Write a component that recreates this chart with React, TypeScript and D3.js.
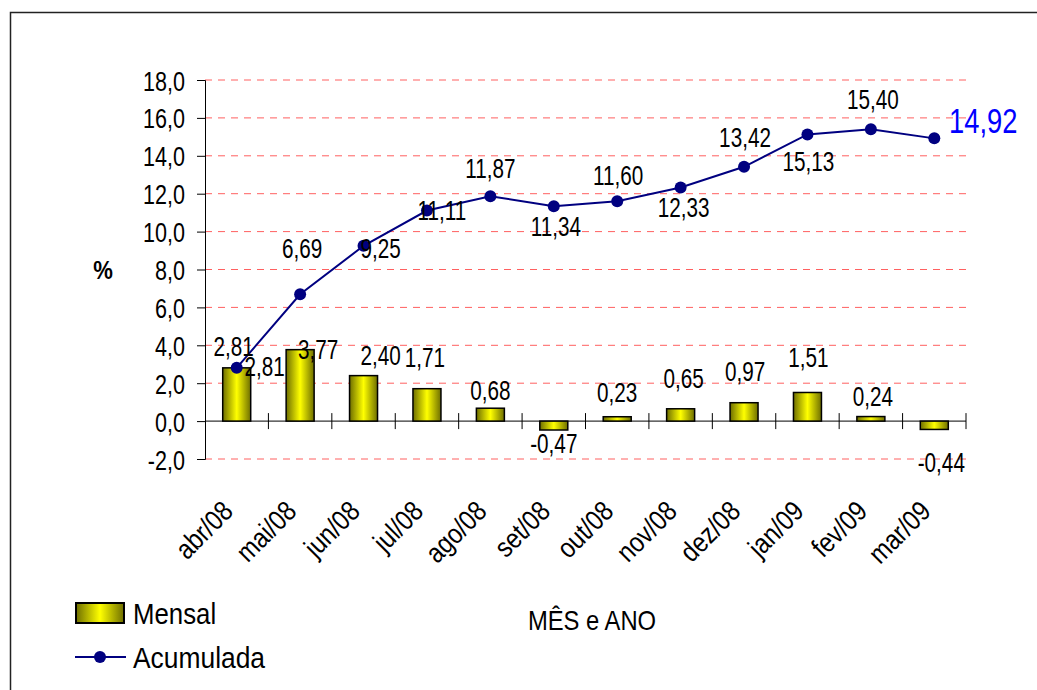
import { useEffect, useRef } from "react";
import * as d3 from "d3";

const months = ["abr/08", "mai/08", "jun/08", "jul/08", "ago/08", "set/08", "out/08", "nov/08", "dez/08", "jan/09", "fev/09", "mar/09"];
const mensal = [2.81, 3.77, 2.40, 1.71, 0.68, -0.47, 0.23, 0.65, 0.97, 1.51, 0.24, -0.44];
const acumulada = [2.81, 6.69, 9.25, 11.11, 11.87, 11.34, 11.60, 12.33, 13.42, 15.13, 15.40, 14.92];
const yTicks = [-2, 0, 2, 4, 6, 8, 10, 12, 14, 16, 18];

// hand-placed label nudges (px) as in the original spreadsheet
const barLabelNudge: [number, number][] = [
  [28, -2], [18, 0], [17, -20], [-2, -32], [0, -18], [0, 13], [0, -25], [3, -31], [1, -32], [1, -35], [2, -20], [7, 33],
];
const lineLabelNudge: [number, number][] = [
  [-3, -22], [2, -46], [17, 2], [15, 0], [0, -28], [2, 20], [1, -26], [3, 20], [1, -30], [1, 27], [2, -30], [0, 0],
];

const fmt = (v: number) => v.toFixed(2).replace(".", ",");

export default function App() {
  const svgRef = useRef<SVGSVGElement | null>(null);

  useEffect(() => {
    if (!svgRef.current) return;
    const svg = d3.select(svgRef.current);
    svg.selectAll("*").remove();

    const width = 1037;
    const height = 690;
    const left = 205;
    const right = 966;
    const font = "'Liberation Sans', Arial, sans-serif";

    svg.attr("width", width).attr("height", height).style("font-family", font);

    const defs = svg.append("defs");
    const grad = defs.append("linearGradient").attr("id", "barGrad").attr("x1", "0").attr("x2", "1").attr("y1", "0").attr("y2", "0");
    grad.append("stop").attr("offset", "0%").attr("stop-color", "#6e6e00");
    grad.append("stop").attr("offset", "50%").attr("stop-color", "#ffff00");
    grad.append("stop").attr("offset", "100%").attr("stop-color", "#6e6e00");

    // narrow text helper: the original renders text condensed
    const label = (g: d3.Selection<any, any, any, any>, x: number, y: number, txt: string, size: number, sx: number) =>
      g.append("text").attr("transform", `translate(${x},${y}) scale(${sx},1)`)
        .attr("dy", "0.35em").attr("text-anchor", "middle").attr("font-size", size).text(txt);

    // outer frame
    svg.append("path").attr("d", `M10.5,${height} V12.5 H${width}`).attr("fill", "none").attr("stroke", "#222").attr("stroke-width", 1.5);

    const x = d3.scaleBand<string>().domain(months).range([left, right]).paddingInner(0).paddingOuter(0);
    const y = d3.scaleLinear().domain([-2, 18]).range([459, 80]);
    const bw = 28;
    const cx = (i: number) => (x(months[i]) ?? 0) + x.bandwidth() / 2;

    // gridlines
    svg.append("g").selectAll("line").data(yTicks.filter((t) => t !== 0)).enter().append("line")
      .attr("x1", left).attr("x2", right)
      .attr("y1", (d) => y(d)).attr("y2", (d) => y(d))
      .attr("stroke", "#ff6060").attr("stroke-width", 1).attr("stroke-dasharray", "7,6");

    // y axis
    const yAxis = d3.axisLeft(y).tickValues(yTicks).tickSize(8).tickFormat((d) => (d as number).toFixed(1).replace(".", ","));
    const ya = svg.append("g").attr("transform", `translate(${left},0)`).call(yAxis);
    ya.select(".domain").attr("stroke", "#000");
    ya.selectAll(".tick line").attr("stroke", "#000");
    ya.selectAll("text").attr("font-size", 28).attr("font-family", font).attr("fill", "#000")
      .attr("x", 0).attr("dy", "0.36em").attr("transform", "translate(-20,0) scale(0.77,1)");

    // x axis at zero
    svg.append("line").attr("x1", left).attr("x2", right).attr("y1", y(0)).attr("y2", y(0)).attr("stroke", "#000");
    svg.append("g").selectAll("line").data(d3.range(1, months.length + 1)).enter().append("line")
      .attr("x1", (i) => left + i * x.bandwidth()).attr("x2", (i) => left + i * x.bandwidth())
      .attr("y1", y(0) - 8).attr("y2", y(0) + 8).attr("stroke", "#000");

    // category labels
    svg.append("g").selectAll("text").data(months).enter().append("text")
      .attr("transform", (_, i) => `translate(${cx(i) - 2},${513}) rotate(-45) scale(0.85,1)`)
      .attr("text-anchor", "end").attr("font-size", 28).text((d) => d);

    // bars
    svg.append("g").selectAll("rect").data(mensal).enter().append("rect")
      .attr("x", (_, i) => cx(i) - bw / 2).attr("width", bw)
      .attr("y", (d) => y(Math.max(0, d))).attr("height", (d) => Math.abs(y(d) - y(0)))
      .attr("fill", "url(#barGrad)").attr("stroke", "#000").attr("stroke-width", 1.5);

    // bar labels
    const bl = svg.append("g");
    mensal.forEach((d, i) => label(bl, cx(i) + barLabelNudge[i][0], y(d) + barLabelNudge[i][1], fmt(d), 28, 0.74));

    // line
    const line = d3.line<number>().x((_, i) => cx(i)).y((d) => y(d));
    svg.append("path").datum(acumulada).attr("d", line).attr("fill", "none").attr("stroke", "#000080").attr("stroke-width", 2);
    svg.append("g").selectAll("circle").data(acumulada).enter().append("circle")
      .attr("cx", (_, i) => cx(i)).attr("cy", (d) => y(d)).attr("r", 6).attr("fill", "#000080");

    // line labels
    const ll = svg.append("g");
    acumulada.slice(0, -1).forEach((d, i) =>
      label(ll, cx(i) + lineLabelNudge[i][0], y(d) + lineLabelNudge[i][1], fmt(d), 28, 0.74));
    const last = acumulada.length - 1;
    label(svg, cx(last) + 49, y(acumulada[last]) - 18, fmt(acumulada[last]), 36, 0.76).attr("fill", "#0000ff");

    // axis titles
    label(svg, 103, 270, "%", 26, 0.85).attr("font-weight", "bold");
    label(svg, 592, 620, "MÊS e ANO", 28, 0.85);

    // legend
    const lg = svg.append("g");
    lg.append("rect").attr("x", 76).attr("y", 603).attr("width", 48).attr("height", 20)
      .attr("fill", "url(#barGrad)").attr("stroke", "#000").attr("stroke-width", 2);
    label(lg, 133, 613, "Mensal", 30, 0.86).attr("text-anchor", "start");
    lg.append("line").attr("x1", 75).attr("x2", 126).attr("y1", 657).attr("y2", 657).attr("stroke", "#000080").attr("stroke-width", 2);
    lg.append("circle").attr("cx", 100).attr("cy", 657).attr("r", 6).attr("fill", "#000080");
    label(lg, 133, 657, "Acumulada", 30, 0.88).attr("text-anchor", "start");
  }, []);

  return <svg ref={svgRef} style={{ display: "block", position: "absolute", left: 0, top: 0 }} />;
}
